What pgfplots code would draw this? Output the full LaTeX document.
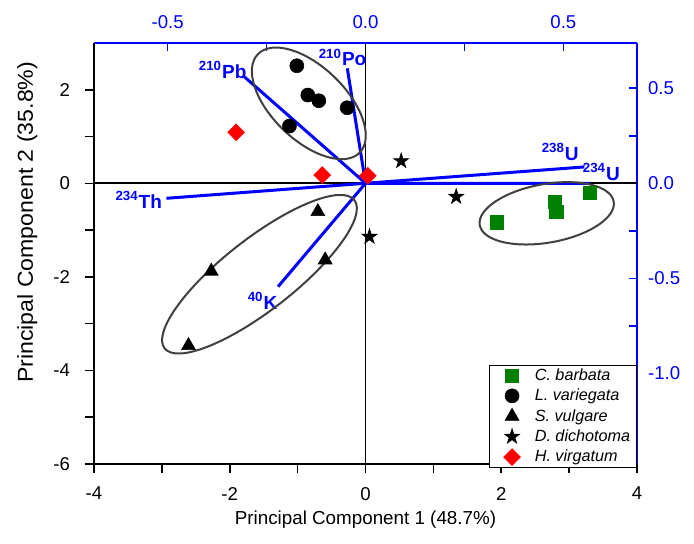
\documentclass[border=0pt]{standalone}
\usepackage{pgfplots}
\pgfplotsset{compat=1.18}
\usepackage{fontspec}
\setmainfont{Liberation Sans}
\setsansfont{Liberation Sans}

\definecolor{pcblue}{RGB}{0,0,255}
\definecolor{cbgreen}{RGB}{0,128,0}
\definecolor{ellgray}{RGB}{64,64,64}

% filled five point star
\pgfdeclareplotmark{fstar}{%
  \pgfpathmoveto{\pgfqpointpolar{90}{\pgfplotmarksize}}%
  \pgfpathlineto{\pgfqpointpolar{126}{0.382\pgfplotmarksize}}%
  \pgfpathlineto{\pgfqpointpolar{162}{\pgfplotmarksize}}%
  \pgfpathlineto{\pgfqpointpolar{198}{0.382\pgfplotmarksize}}%
  \pgfpathlineto{\pgfqpointpolar{234}{\pgfplotmarksize}}%
  \pgfpathlineto{\pgfqpointpolar{270}{0.382\pgfplotmarksize}}%
  \pgfpathlineto{\pgfqpointpolar{306}{\pgfplotmarksize}}%
  \pgfpathlineto{\pgfqpointpolar{342}{0.382\pgfplotmarksize}}%
  \pgfpathlineto{\pgfqpointpolar{18}{\pgfplotmarksize}}%
  \pgfpathlineto{\pgfqpointpolar{54}{0.382\pgfplotmarksize}}%
  \pgfpathclose
  \pgfusepathqfillstroke
}

\pgfplotsset{
  pcsize/.style={scale only axis, width=271.5pt, height=210.5pt,
    at={(0,0)}, anchor=south west, clip=false},
  vec/.style={pcblue, line width=1.5pt, no markers},
}
\tikzset{veclab/.style={pcblue, font=\bfseries\fontsize{9.5}{11}\selectfont, inner sep=0pt}}

\begin{document}
\begin{tikzpicture}
\path[use as bounding box] (-47pt,-39.5pt) rectangle (300pt,232pt);

% loadings (blue, top/right axes)
\begin{axis}[pcsize,
  xmin=-0.686, xmax=0.686, ymin=-1.477, ymax=0.738,
  axis x line*=top, axis y line*=right,
  axis line style={-, pcblue, line width=1pt},
  xtick={-0.5,0,0.5}, minor xtick={-0.25,0.25},
  ytick={-1,-0.5,0,0.5}, minor ytick={-1.25,-0.75,-0.25,0.25},
  tick align=inside, major tick length=4pt, minor tick length=4pt,
  every tick/.style={pcblue, line width=0.8pt},
  ticklabel style={pcblue, font=\fontsize{9.3}{11}\selectfont},
  xticklabel style={yshift=3.5pt},
  yticklabel style={xshift=2pt},
  /pgf/number format/assume math mode=true,
  /pgf/number format/fixed, /pgf/number format/fixed zerofill,
  /pgf/number format/precision=1,
]
\draw[black, line width=0.8pt] (axis cs:-0.686,0) -- (axis cs:0.686,0);
\draw[black, line width=0.8pt] (axis cs:0,-1.477) -- (axis cs:0,0.738);
\addplot[vec] coordinates {(0,0) (-0.046,0.605)};
\addplot[vec] coordinates {(0,0) (-0.306,0.560)};
\addplot[vec] coordinates {(0,0) (-0.503,-0.079)};
\addplot[vec] coordinates {(0,0) (-0.221,-0.544)};
\addplot[vec] coordinates {(0,0) (0.553,0.086)};
\addplot[vec] coordinates {(0,0) (0.566,-0.001)};
\node[veclab] at (axis cs:-0.058,0.662) {\textsuperscript{210}Po};
\node[veclab] at (axis cs:-0.361,0.597) {\textsuperscript{210}Pb};
\node[veclab] at (axis cs:-0.573,-0.088) {\textsuperscript{234}Th};
\node[veclab] at (axis cs:-0.260,-0.620) {\textsuperscript{40}K};
\node[veclab] at (axis cs:0.492,0.165) {\textsuperscript{238}U};
\node[veclab] at (axis cs:0.596,0.060) {\textsuperscript{234}U};
\end{axis}

% scores (black, bottom/left axes)
\begin{axis}[pcsize,
  xmin=-4, xmax=4, ymin=-6, ymax=3,
  axis x line*=bottom, axis y line*=left,
  axis line style={-, black, line width=1pt},
  xtick={-4,-2,...,4}, minor xtick={-3,-1,1,3},
  ytick={-6,-4,...,2}, minor ytick={-5,-3,-1,1},
  tick align=outside, major tick length=4.5pt, minor tick length=4.5pt,
  every tick/.style={black, line width=0.8pt},
  ticklabel style={font=\fontsize{9.3}{11}\selectfont},
  xticklabel style={yshift=-3.5pt},
  yticklabel style={xshift=-4pt},
  /pgf/number format/assume math mode=true,
  xlabel={Principal Component 1 (48.7\%)},
  ylabel={Principal Component 2 (35.8\%)},
  xlabel style={at={(axis description cs:0.5,-0.133)}, anchor=center,
    font=\fontsize{9.4}{11}\selectfont},
  ylabel style={at={(axis description cs:-0.123,0.574)}, anchor=center,
    font=\fontsize{10.8}{12}\selectfont, xscale=1.07},
  legend cell align=left,
  legend style={at={(1,0)}, anchor=south east, yshift=-2pt,
    draw=black, line width=0.75pt,
    font=\itshape\fontsize{8.1}{9}\selectfont, row sep=0.6pt,
    inner xsep=2pt, inner ysep=0.3pt,
    nodes={inner xsep=1pt, inner ysep=1pt, text height=6.2pt, text depth=1.4pt}},
  legend image code/.code={\path (0pt,0pt) (19pt,0pt);
    \draw[mark repeat=2, mark phase=2]
    plot coordinates {(0pt,0pt) (9pt,0pt) (18pt,0pt)};},
]
\draw[ellgray, line width=1pt, rotate around={-44:(axis cs:-0.835,1.71)}]
  (axis cs:-0.835,1.71) ellipse [x radius=35.4pt, y radius=18.35pt];
\draw[ellgray, line width=1pt, rotate around={38:(axis cs:-1.562,-1.943)}]
  (axis cs:-1.562,-1.943) ellipse [x radius=60.2pt, y radius=17.85pt];
\draw[ellgray, line width=1pt, rotate around={10:(axis cs:2.670,-0.641)}]
  (axis cs:2.670,-0.641) ellipse [x radius=34pt, y radius=14.65pt];

\addplot[only marks, mark=square*, mark size=3.3pt,
  mark options={draw=cbgreen, fill=cbgreen, line width=0.3pt}]
  coordinates {(1.934,-0.834) (2.784,-0.393) (2.810,-0.607) (3.310,-0.201)};
\addlegendentry{C. barbata}
\addplot[only marks, mark=*, mark size=3.5pt,
  mark options={draw=black, fill=black, line width=0.3pt}]
  coordinates {(-1.012,2.514) (-0.850,1.888) (-0.688,1.766) (-0.270,1.616) (-1.120,1.225)};
\addlegendentry{L. variegata}
\addplot[only marks, mark=triangle*, mark size=4pt,
  mark options={draw=black, fill=black, line width=0.3pt}]
  coordinates {(-0.702,-0.605) (-0.594,-1.638) (-2.273,-1.879) (-2.608,-3.469)};
\addlegendentry{S. vulgare}
\addplot[only marks, mark=fstar, mark size=4pt,
  mark options={draw=black, fill=black, line width=0.3pt}]
  coordinates {(0.526,0.477) (1.336,-0.286) (0.059,-1.141)};
\addlegendentry{D. dichotoma}
\addplot[only marks, mark=diamond*, mark size=4.2pt,
  mark options={draw=red, fill=red, line width=0.3pt, xscale=1.333}]
  coordinates {(-1.905,1.090) (-0.638,0.177) (0.034,0.162)};
\addlegendentry{H. virgatum}
\end{axis}
\end{tikzpicture}
\end{document}
